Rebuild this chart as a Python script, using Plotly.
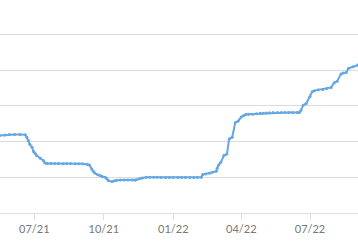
import plotly.graph_objects as go

dates = [
    "2021-05-16", "2021-05-23", "2021-05-29", "2021-06-05", "2021-06-12", "2021-06-19",
    "2021-06-21", "2021-06-23", "2021-06-25", "2021-06-28", "2021-06-30", "2021-07-02",
    "2021-07-04", "2021-07-09", "2021-07-13", "2021-07-15", "2021-07-18", "2021-07-23",
    "2021-07-28", "2021-08-02", "2021-08-08", "2021-08-13", "2021-08-18", "2021-08-24",
    "2021-08-29", "2021-09-03", "2021-09-09", "2021-09-12", "2021-09-15", "2021-09-17",
    "2021-09-19", "2021-09-23", "2021-09-26", "2021-09-29", "2021-10-03", "2021-10-05",
    "2021-10-07", "2021-10-12", "2021-10-15", "2021-10-18", "2021-10-23", "2021-10-28",
    "2021-11-02", "2021-11-07", "2021-11-11", "2021-11-13", "2021-11-17", "2021-11-21",
    "2021-11-26", "2021-12-01", "2021-12-06", "2021-12-11", "2021-12-16", "2021-12-22",
    "2021-12-27", "2022-01-01", "2022-01-07", "2022-01-12", "2022-01-17", "2022-01-23",
    "2022-01-28", "2022-02-02", "2022-02-07", "2022-02-09", "2022-02-13", "2022-02-18",
    "2022-02-22", "2022-02-27", "2022-02-28", "2022-03-02", "2022-03-05", "2022-03-09",
    "2022-03-13", "2022-03-16", "2022-03-20", "2022-03-24", "2022-03-28", "2022-04-01",
    "2022-04-04", "2022-04-07", "2022-04-11", "2022-04-16", "2022-04-21", "2022-04-26",
    "2022-04-30", "2022-05-04", "2022-05-08", "2022-05-13", "2022-05-19", "2022-05-24",
    "2022-05-29", "2022-06-03", "2022-06-08", "2022-06-14", "2022-06-17", "2022-06-19",
    "2022-06-22", "2022-06-26", "2022-07-01", "2022-07-04", "2022-07-07", "2022-07-12",
    "2022-07-18", "2022-07-23", "2022-07-29", "2022-08-02", "2022-08-06", "2022-08-11",
    "2022-08-14", "2022-08-18", "2022-08-21", "2022-08-27", "2022-09-02", "2022-09-07",
]

values = [
    2.168, 2.182, 2.196, 2.196, 2.196, 2.190,
    2.120, 2.027, 1.924, 1.840, 1.719, 1.671,
    1.607, 1.531, 1.467, 1.399, 1.383, 1.383,
    1.385, 1.383, 1.381, 1.383, 1.383, 1.381,
    1.379, 1.375, 1.363, 1.343, 1.231, 1.167,
    1.119, 1.068, 1.046, 1.012, 0.998, 0.956,
    0.906, 0.878, 0.900, 0.914, 0.923, 0.923,
    0.923, 0.920, 0.914, 0.928, 0.956, 0.981,
    0.998, 0.998, 0.998, 0.998, 0.996, 0.996,
    0.996, 0.993, 0.990, 0.990, 0.990, 0.990,
    0.990, 0.993, 0.998, 1.074, 1.091, 1.110,
    1.139, 1.167, 1.251, 1.343, 1.419, 1.607,
    1.652, 2.072, 2.120, 2.527, 2.577, 2.689,
    2.723, 2.757, 2.760, 2.765, 2.779, 2.788,
    2.793, 2.801, 2.807, 2.810, 2.810, 2.810,
    2.813, 2.813, 2.813, 2.813, 2.813, 2.877,
    3.017, 3.065, 3.250, 3.396, 3.424, 3.446,
    3.458, 3.486, 3.514, 3.643, 3.690, 3.887,
    3.920, 3.934, 4.047, 4.091, 4.139, 4.160,
]

tick_vals = ["2021-07-01", "2021-10-01", "2022-01-01", "2022-04-01", "2022-07-01"]
tick_text = ["07/21", "10/21", "01/22", "04/22", "07/22"]

fig = go.Figure()
fig.add_trace(go.Scatter(
    x=dates, y=values, mode="lines+markers",
    line=dict(color="#64a6e6", width=2),
    marker=dict(color="#64a6e6", size=3),
    hoverinfo="skip",
))

fig.update_layout(
    width=358, height=247,
    margin=dict(l=0, r=0, t=0, b=34),
    paper_bgcolor="white", plot_bgcolor="white",
    showlegend=False,
    xaxis=dict(
        range=["2021-05-16 14:00", "2022-09-02 13:00"],
        tickvals=tick_vals, ticktext=tick_text,
        showgrid=False, showline=True, linecolor="#dedede", linewidth=1,
        ticks="outside", ticklen=6, tickcolor="#dedede", tickwidth=1,
        tickfont=dict(family="Lato", size=11, color="#777777"),
        zeroline=False,
    ),
    yaxis=dict(
        range=[0, 5.96], dtick=1, tick0=0,
        showgrid=True, gridcolor="#dcdcdc", gridwidth=1,
        showticklabels=False, zeroline=False, showline=False,
    ),
)

fig.write_html("out.html")
